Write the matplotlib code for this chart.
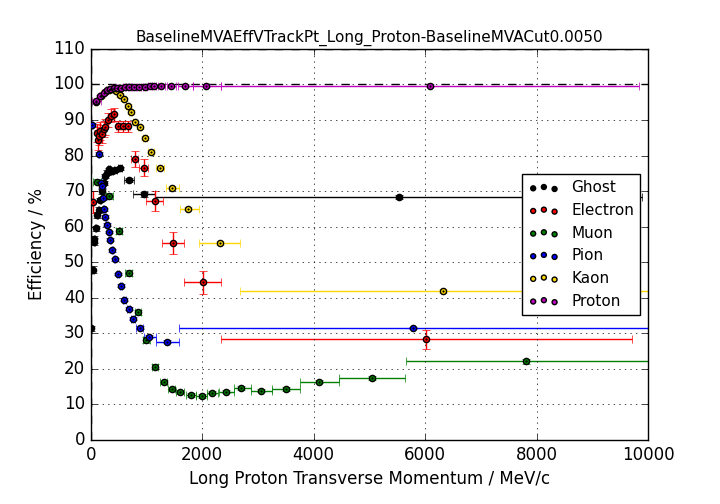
import numpy as np
from matplotlib import pyplot as plt

plt.style.use('classic')

# values
ghost_x = [10, 40, 60, 65, 90, 120, 140, 175, 200, 230, 260, 290, 330, 380, 440, 530, 680, 950, 5530]
ghost_y = [31.4, 47.9, 55.8, 56.5, 59.5, 63.3, 64.7, 67.5, 69.9, 72.3, 74.3, 75.2, 76.1, 75.7, 76.0, 76.4, 73.1, 69.1, 68.4]
ghost_xlo = [5, 10, 10, 10, 10, 10, 10, 10, 10, 12, 12, 15, 15, 20, 25, 40, 90, 190, 4370]
ghost_xhi = [5, 10, 10, 10, 10, 10, 10, 10, 10, 12, 12, 15, 15, 20, 25, 40, 90, 210, 4370]
ghost_yerr = [0.8, 1.0, 1.0, 1.0, 0.8, 0.8, 0.8, 0.7, 0.7, 0.6, 0.6, 0.6, 0.5, 0.5, 0.5, 0.5, 0.6, 0.7, 0.5]

electron_x = [40, 110, 130, 150, 175, 200, 230, 265, 310, 370, 420, 490, 580, 660, 790, 950, 1155, 1478, 2010, 6020]
electron_y = [66.9, 86.3, 84.4, 85.5, 87.0, 86.0, 87.5, 88.0, 90.0, 91.2, 91.6, 88.2, 88.2, 88.2, 79.0, 76.6, 67.2, 55.5, 44.3, 28.3]
electron_yerr = [3.0, 2.5, 2.8, 2.5, 2.5, 2.5, 2.3, 2.3, 2.0, 1.8, 1.8, 1.5, 1.5, 1.5, 2.3, 2.3, 2.8, 3.1, 3.1, 2.7]
electron_xlo = [10, 8, 8, 8, 10, 10, 12, 12, 15, 20, 20, 30, 40, 45, 60, 75, 155, 190, 335, 3675]
electron_xhi = [10, 8, 8, 8, 10, 10, 12, 12, 15, 20, 20, 30, 40, 45, 60, 75, 145, 197, 335, 3690]

muon_x = [110, 329, 510, 682, 850, 998, 1160, 1310, 1450, 1600, 1795, 1993, 2185, 2436, 2705, 3047, 3500, 4093, 5045, 7810]
muon_y = [72.7, 68.7, 58.8, 46.9, 35.9, 28.1, 20.6, 16.3, 14.3, 13.5, 12.7, 12.4, 13.3, 13.6, 14.6, 13.9, 14.3, 16.4, 17.4, 22.1]
muon_xlo = [70, 60, 60, 60, 60, 60, 55, 60, 60, 70, 90, 95, 100, 137, 132, 163, 245, 335, 587, 2160]
muon_xhi = [82, 70, 60, 60, 60, 60, 55, 60, 60, 70, 90, 100, 100, 137, 179, 208, 258, 365, 598, 2500]
muon_yerr = [0.8, 0.8, 0.8, 0.8, 0.8, 0.8, 0.7, 0.6, 0.6, 0.5, 0.5, 0.5, 0.5, 0.5, 0.5, 0.5, 0.5, 0.5, 0.5, 0.6]

pion_x = [30, 143, 192, 208, 220, 233, 262, 293, 321, 351, 387, 429, 490, 537, 603, 682, 765, 880, 1047, 1364, 5781]
pion_y = [88.7, 80.5, 72.2, 71.4, 68.0, 64.9, 62.8, 60.5, 58.5, 56.3, 53.3, 50.8, 46.7, 43.4, 39.4, 36.9, 34.1, 31.6, 29.1, 27.6, 31.5]
pion_xlo = [10, 10, 8, 8, 8, 8, 10, 10, 10, 12, 12, 15, 20, 20, 25, 30, 35, 60, 96, 185, 4196]
pion_xhi = [10, 10, 8, 8, 8, 8, 10, 10, 10, 12, 12, 15, 20, 20, 25, 30, 35, 60, 132, 221, 4219]
pion_yerr = [0.4] * len(pion_x)

kaon_x = [100, 180, 250, 320, 390, 460, 530, 600, 660, 720, 790, 880, 975, 1081, 1239, 1466, 1752, 2316, 6313]
kaon_y = [95.2, 96.8, 97.8, 98.5, 98.6, 98.2, 97.0, 95.8, 94.0, 92.2, 89.3, 87.9, 85.0, 81.1, 76.6, 71.0, 65.1, 55.4, 41.9]
kaon_xlo = [20, 20, 20, 20, 25, 25, 25, 25, 25, 25, 30, 30, 40, 50, 70, 107, 154, 377, 3626]
kaon_xhi = [20, 20, 20, 20, 25, 25, 25, 25, 25, 25, 30, 30, 40, 50, 70, 119, 187, 371, 3800]
kaon_yerr = [0.5] * len(kaon_x)

proton_x = [100, 170, 230, 290, 350, 410, 470, 540, 610, 690, 770, 860, 970, 1059, 1131, 1268, 1447, 1688, 2077, 6086]
proton_y = [95.4, 96.8, 97.6, 98.3, 98.7, 98.9, 99.0, 99.1, 99.2, 99.2, 99.3, 99.3, 99.4, 99.5, 99.5, 99.6, 99.7, 99.7, 99.7, 99.7]
proton_xlo = [70, 20, 20, 20, 20, 25, 25, 25, 30, 30, 35, 35, 40, 40, 40, 60, 85, 120, 240, 3752]
proton_xhi = [92, 20, 20, 20, 20, 25, 25, 25, 30, 30, 35, 35, 40, 40, 40, 60, 85, 150, 257, 3760]
proton_yerr = [0.3] * len(proton_x)

series = [
    ('Ghost', 'k', ghost_x, ghost_y, ghost_xlo, ghost_xhi, ghost_yerr),
    ('Electron', 'r', electron_x, electron_y, electron_xlo, electron_xhi, electron_yerr),
    ('Muon', 'g', muon_x, muon_y, muon_xlo, muon_xhi, muon_yerr),
    ('Pion', 'b', pion_x, pion_y, pion_xlo, pion_xhi, pion_yerr),
    ('Kaon', 'gold', kaon_x, kaon_y, kaon_xlo, kaon_xhi, kaon_yerr),
    ('Proton', 'm', proton_x, proton_y, proton_xlo, proton_xhi, proton_yerr),
]

fig = plt.figure(figsize=(7.2, 5.04), dpi=100)
ax = fig.add_subplot(111)
fig.subplots_adjust(left=0.126, right=0.9, bottom=0.127, top=0.903)

for name, color, x, y, xlo, xhi, yerr in series:
    ax.errorbar(x, y, xerr=[xlo, xhi], yerr=yerr, fmt='none', ecolor=color, capsize=3, zorder=2)
    ax.scatter(x, y, c=color, edgecolors='k', s=20, label=name, zorder=3)
    ax.plot(x, y, 'k.', ms=2, zorder=4)

ax.axhline(100, color='k', ls='--', zorder=1)
ax.axhline(110, color='k', ls='--', zorder=1)
ax.axvline(0, color='k', ls='--', zorder=1)

ax.set_xlim(0, 10000)
ax.set_ylim(0, 110)
ax.set_yticks(np.arange(0, 111, 10))
ax.grid(True)
ax.set_title('BaselineMVAEffVTrackPt_Long_Proton-BaselineMVACut0.0050', fontsize=11)
ax.set_xlabel('Long Proton Transverse Momentum / MeV/c')
ax.set_ylabel('Efficiency / %')
ax.legend(loc='center right', fontsize=11, markerscale=0.8)

plt.savefig('out.png', dpi=100)
